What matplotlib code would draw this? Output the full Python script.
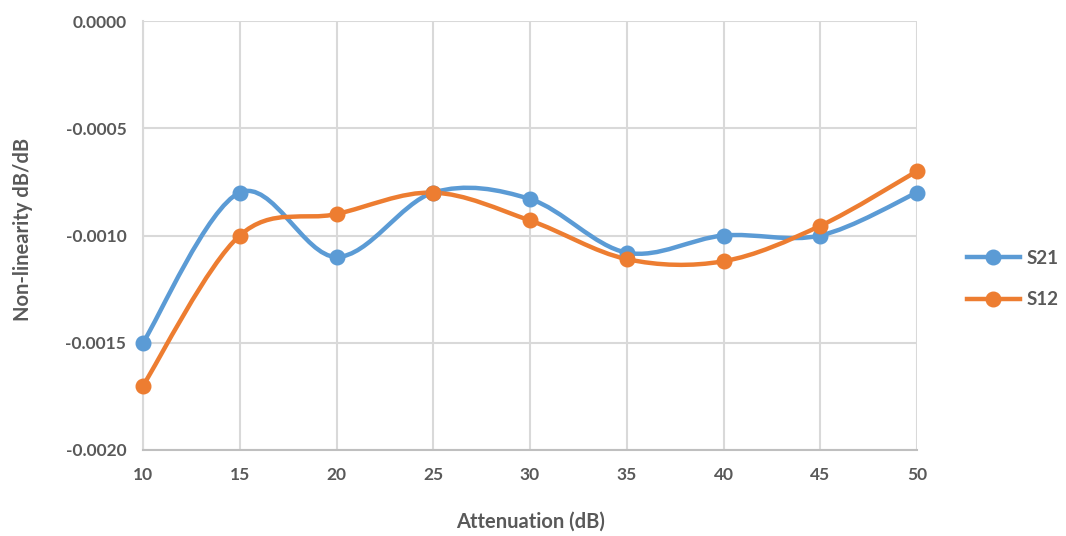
import matplotlib
matplotlib.use("Agg")
import matplotlib.pyplot as plt
import numpy as np
from matplotlib.path import Path
from matplotlib.patches import PathPatch
from matplotlib.lines import Line2D

attenuation = [10, 15, 20, 25, 30, 35, 40, 45, 50]
s21 = [-0.0015, -0.0008, -0.0011, -0.0008, -0.00083, -0.00108, -0.0010, -0.0010, -0.0008]
s12 = [-0.0017, -0.0010, -0.0009, -0.0008, -0.00093, -0.00111, -0.00112, -0.000955, -0.0007]
series_names = ["S21", "S12"]
colors = ["#5B9BD5", "#ED7D31"]
yticks = [0.0, -0.0005, -0.0010, -0.0015, -0.0020]
ytick_labels = ["0.0000", "-0.0005", "-0.0010", "-0.0015", "-0.0020"]

plt.rcParams['font.family'] = ['Lato', 'DejaVu Sans']

fig = plt.figure(figsize=(10.66, 5.36), dpi=100)
ax = fig.add_axes([143/1066, 1-450/536, (917-143)/1066, (450-21)/536])


def smooth_path(x, y):
    x = np.asarray(x, float)
    y = np.asarray(y, float)
    verts = [(x[0], y[0])]
    codes = [Path.MOVETO]
    n = len(x)
    for i in range(n - 1):
        p0 = (x[i-1], y[i-1]) if i > 0 else (x[i], y[i])
        p1 = (x[i], y[i])
        p2 = (x[i+1], y[i+1])
        p3 = (x[i+2], y[i+2]) if i + 2 < n else (x[i+1], y[i+1])
        c1 = (p1[0] + (p2[0]-p0[0])/6, p1[1] + (p2[1]-p0[1])/6)
        c2 = (p2[0] - (p3[0]-p1[0])/6, p2[1] - (p3[1]-p1[1])/6)
        verts += [c1, c2, p2]
        codes += [Path.CURVE4]*3
    return Path(verts, codes)


for vals, c in zip([s21, s12], colors):
    patch = PathPatch(smooth_path(attenuation, vals), facecolor='none', edgecolor=c,
                      lw=3.2, capstyle='round', joinstyle='round', zorder=3)
    ax.add_patch(patch)
    ax.plot(attenuation, vals, linestyle='none', marker='o', markersize=10.5,
            color=c, zorder=4, clip_on=False)

ax.set_xlim(10, 50)
ax.set_ylim(-0.0020, 0.0)
ax.set_xticks(attenuation)
ax.set_yticks(yticks)
ax.set_yticklabels(ytick_labels)
ax.grid(True, color='#d9d9d9', lw=1.5)
ax.set_axisbelow(True)
for s in ['top', 'right']:
    ax.spines[s].set_visible(False)
ax.spines['left'].set_color('#d9d9d9')
ax.spines['left'].set_linewidth(1.5)
ax.spines['bottom'].set_color('#bfbfbf')
ax.spines['bottom'].set_linewidth(1.5)
ax.tick_params(length=0, labelsize=12.5, labelcolor='#595959', pad=12)
for lab in ax.get_xticklabels() + ax.get_yticklabels():
    lab.set_fontweight('bold')

ax.set_xlabel("Attenuation (dB)", fontsize=14.5, color='#595959', fontweight='bold', va='center')
ax.xaxis.set_label_coords(0.501, -0.168)
ax.set_ylabel("Non-linearity dB/dB", fontsize=14.5, color='#595959', fontweight='bold', va='center')
ax.yaxis.set_label_coords(-0.155, 0.515)

handles = [Line2D([0], [0], color=c, lw=3.2, marker='o', markersize=10.5) for c in colors]
leg = fig.legend(handles, series_names, loc='center left', bbox_to_anchor=(967/1066, 1-279/536),
                 frameon=False, fontsize=13.5, handlelength=2.8, labelspacing=1.3,
                 handletextpad=0.35, borderpad=0, borderaxespad=0)
for t in leg.get_texts():
    t.set_color('#595959')
    t.set_fontweight('bold')

fig.savefig("out.png", dpi=100)
